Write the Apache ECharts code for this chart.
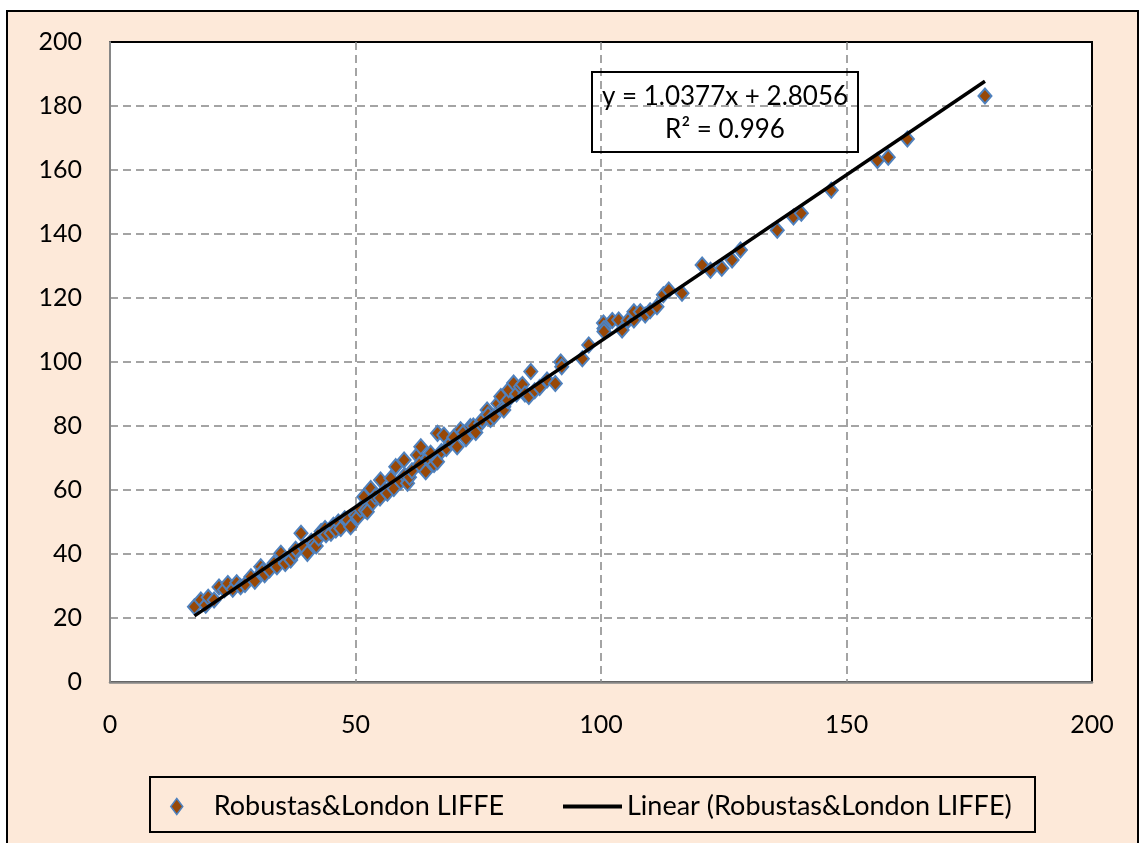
<!DOCTYPE html>
<html>
<head>
<meta charset="utf-8">
<title>Robustas & London LIFFE</title>
<script src="https://cdn.jsdelivr.net/npm/echarts@6/dist/echarts.min.js"></script>
<style>
  html, body { margin: 0; padding: 0; background: #fff; }
  .frame {
    position: absolute; left: 6px; top: 10px;
    width: 1129px; height: 850px;
    border: 2px solid #000; background: #fde9d9;
  }
  #chart { position: absolute; left: 0; top: 0; width: 1140px; height: 843px; }
</style>
</head>
<body>
<div class="frame"></div>
<div id="chart"></div>
<script>
// values
const xValues = [
  17.2, 18.5, 19.5, 20.0, 21.2, 22.2, 23.3, 24.0, 25.0, 25.8,
  26.6, 27.5, 28.7, 29.5, 30.7, 31.0, 31.5, 32.5, 33.4, 34.0,
  34.8, 35.5, 35.7, 36.8, 37.5, 37.8, 38.9, 39.5, 40.2, 41.0,
  41.6, 42.0, 42.5, 43.0, 43.8, 44.0, 45.0, 45.5, 46.0, 46.5,
  47.0, 47.8, 48.4, 49.0, 50.0, 50.5, 51.0, 51.7, 52.0, 52.4,
  53.1, 53.5, 54.0, 55.0, 55.1, 56.0, 56.5, 57.2, 57.8, 58.2,
  59.2, 59.9, 60.0, 60.6, 61.0, 61.5, 62.6, 63.0, 63.3, 64.3,
  64.8, 65.3, 66.0, 66.7, 66.7, 67.5, 68.0, 68.5, 69.5, 70.0,
  70.7, 71.4, 72.0, 72.5, 73.4, 74.0, 74.5, 75.5, 75.8, 76.8,
  77.0, 77.5, 78.2, 79.0, 79.6, 80.2, 80.2, 81.0, 81.2, 82.2,
  82.8, 83.6, 84.0, 84.5, 85.3, 85.7, 86.5, 87.5, 89.0, 90.7,
  91.8, 92.0, 96.2, 97.5, 100.5, 100.6, 100.6, 102.3, 103.6, 104.3,
  105.5, 106.7, 106.7, 108.0, 109.0, 110.0, 111.4, 112.7, 113.8, 116.5,
  120.6, 122.3, 124.6, 126.7, 128.4, 135.9, 139.2, 140.8, 146.9, 156.3,
  158.5, 162.4, 178.2
];
const yValues = [
  23.5, 25.6, 24.0, 26.5, 25.6, 29.7, 28.8, 30.8, 29.0, 31.0,
  29.8, 30.5, 32.9, 31.5, 36.0, 34.5, 33.5, 35.0, 37.1, 36.0,
  40.2, 38.0, 37.0, 38.1, 40.0, 41.5, 46.5, 42.0, 40.2, 44.0,
  43.3, 42.5, 45.0, 47.0, 48.0, 46.0, 46.5, 49.0, 47.5, 50.0,
  48.0, 51.0, 50.6, 48.5, 52.0, 51.5, 54.0, 57.9, 53.7, 53.2,
  60.5, 56.0, 58.0, 57.5, 63.1, 60.0, 59.0, 63.7, 60.5, 67.3,
  62.6, 69.4, 64.5, 62.1, 64.0, 66.0, 70.9, 68.0, 73.5, 65.7,
  70.0, 71.5, 68.0, 68.8, 77.7, 72.0, 77.2, 73.0, 75.0, 76.5,
  73.5, 78.8, 78.0, 76.0, 79.8, 80.0, 78.0, 80.8, 81.9, 85.0,
  83.5, 82.0, 82.9, 87.0, 89.2, 86.0, 85.0, 88.0, 91.3, 93.4,
  90.0, 92.3, 93.0, 90.0, 89.2, 97.0, 91.0, 92.0, 94.4, 93.3,
  100.0, 98.5, 101.0, 105.3, 112.2, 110.5, 109.5, 113.0, 113.1, 110.0,
  113.0, 113.1, 115.7, 115.7, 114.7, 116.0, 117.3, 121.0, 122.5, 121.5,
  130.3, 128.7, 129.3, 131.9, 135.0, 141.2, 145.3, 146.5, 153.7, 163.0,
  164.0, 169.7, 183.1
];

// trendline from the label on the chart
const slope = 1.0377;
const intercept = 2.8056;
const equationLines = ["y = 1.0377x + 2.8056", "R\u00b2 = 0.996"];

const xAxisRange = [0, 200, 50];
const yAxisRange = [0, 200, 20];

const seriesName = "Robustas&London LIFFE";
const trendName = "Linear (Robustas&London LIFFE)";

const points = xValues.map((x, i) => [x, yValues[i]]);
const xMin = Math.min.apply(null, xValues);
const xMax = Math.max.apply(null, xValues);
const trendLine = [
  [xMin, slope * xMin + intercept],
  [xMax, slope * xMax + intercept],
];

const font = "Lato, 'Open Sans', sans-serif";
const gridLine = {
  show: true,
  showMinLine: false,
  showMaxLine: false,
  lineStyle: { color: "#868686", width: 1.5, type: [8, 5] },
};

const chart = echarts.init(document.getElementById("chart"));
const option = {
  backgroundColor: "transparent",
  animation: false,
  textStyle: { fontFamily: font },
  grid: {
    left: 110,
    right: 48,
    top: 42,
    bottom: 161,
    show: true,
    backgroundColor: "#fff",
    borderColor: "#000",
    borderWidth: 2,
  },
  xAxis: {
    type: "value",
    min: xAxisRange[0],
    max: xAxisRange[1],
    interval: xAxisRange[2],
    axisLine: { onZero: false, lineStyle: { color: "#868686", width: 2.5 } },
    axisTick: { show: false },
    axisLabel: { color: "#000", fontSize: 25, fontFamily: font, margin: 30 },
    splitLine: gridLine,
  },
  yAxis: {
    type: "value",
    min: yAxisRange[0],
    max: yAxisRange[1],
    interval: yAxisRange[2],
    axisLine: { show: true, onZero: false, lineStyle: { color: "#868686", width: 2 } },
    axisTick: { show: false },
    axisLabel: { color: "#000", fontSize: 25, fontFamily: font, margin: 28 },
    splitLine: gridLine,
  },
  legend: [
    {
      data: [seriesName],
      left: 170,
      top: 793,
      padding: 0,
      itemWidth: 12,
      itemHeight: 16,
      icon: "diamond",
      itemStyle: { borderWidth: 1.5 },
      textStyle: { color: "#000", fontSize: 27, fontFamily: font, padding: [0, 0, 0, 26] },
    },
    {
      data: [trendName],
      left: 563,
      top: 793,
      padding: 0,
      itemWidth: 59,
      itemHeight: 4,
      icon: "rect",
      textStyle: { color: "#000", fontSize: 27, fontFamily: font },
    },
  ],
  graphic: [
    {
      type: "rect",
      shape: { x: 150, y: 777, width: 885, height: 55 },
      style: { fill: "none", stroke: "#000", lineWidth: 2 },
    },
    {
      type: "rect",
      z: 100,
      shape: { x: 592, y: 72, width: 266, height: 80 },
      style: { fill: "none", stroke: "#000", lineWidth: 2 },
    },
    {
      type: "text",
      z: 100,
      x: 725,
      y: 97,
      style: {
        text: equationLines[0],
        fill: "#000",
        font: "26px " + font,
        textAlign: "center",
        textVerticalAlign: "middle",
      },
    },
    {
      type: "text",
      z: 100,
      x: 725,
      y: 130,
      style: {
        text: equationLines[1],
        fill: "#000",
        font: "26px " + font,
        textAlign: "center",
        textVerticalAlign: "middle",
      },
    },
  ],
  series: [
    {
      name: seriesName,
      type: "scatter",
      data: points,
      symbol: "diamond",
      symbolSize: [13, 15],
      itemStyle: { color: "#984807", borderColor: "#4f81bd", borderWidth: 2, opacity: 1 },
      z: 2,
    },
    {
      name: trendName,
      type: "line",
      data: trendLine,
      symbol: "none",
      lineStyle: { color: "#000", width: 3.5 },
      itemStyle: { color: "#000" },
      z: 3,
    },
  ],
};
chart.setOption(option);
</script>
</body>
</html>
